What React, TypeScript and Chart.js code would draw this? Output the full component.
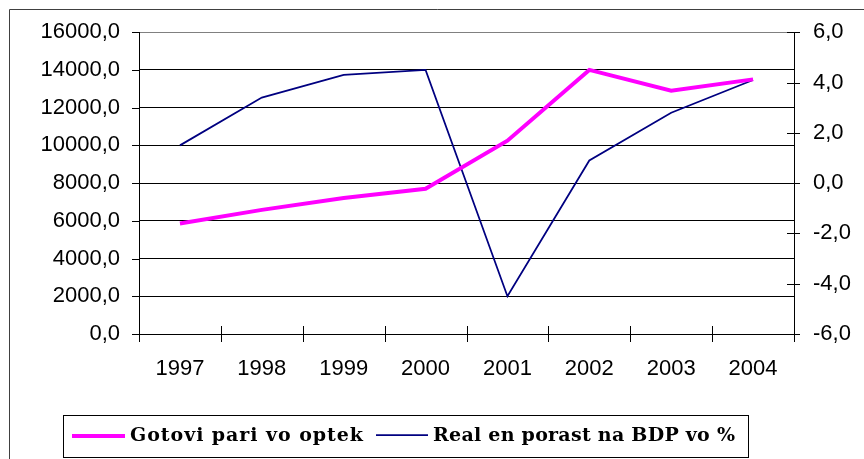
import React, { useEffect, useRef } from "react";
import { Chart, registerables } from "chart.js";

Chart.register(...registerables);

const years = ["1997", "1998", "1999", "2000", "2001", "2002", "2003", "2004"];
const cashValues = [5860, 6580, 7210, 7700, 10250, 14000, 12900, 13500];
const gdpGrowth = [1.5, 3.4, 4.3, 4.5, -4.5, 0.9, 2.8, 4.1];
const cashLabel = "Gotovi pari vo optek";
const gdpLabel = "Real en porast na BDP vo %";
const leftRange = [0, 16000, 2000];
const rightRange = [-6, 6, 2];

const fmt = (v: number) => v.toFixed(1).replace(".", ",");

const decor = {
  id: "decor",
  afterDraw(chart: any) {
    const ctx = chart.ctx;
    const a = chart.chartArea;
    ctx.save();
    // outer frame
    ctx.strokeStyle = "#404040";
    ctx.lineWidth = 1;
    ctx.beginPath();
    ctx.moveTo(9.5, 470);
    ctx.lineTo(9.5, 9.5);
    ctx.lineTo(880, 9.5);
    ctx.stroke();

    ctx.strokeStyle = "#000";
    // left ticks
    const ys = chart.scales.y;
    ys.ticks.forEach((t: any) => {
      const y = Math.round(ys.getPixelForValue(t.value)) + 0.5;
      ctx.beginPath();
      ctx.moveTo(a.left - 7, y);
      ctx.lineTo(a.left, y);
      ctx.stroke();
    });
    // right ticks (crossing)
    const y1 = chart.scales.y1;
    y1.ticks.forEach((t: any) => {
      const y = Math.round(y1.getPixelForValue(t.value)) + 0.5;
      ctx.beginPath();
      ctx.moveTo(a.right - 7, y);
      ctx.lineTo(a.right + 6, y);
      ctx.stroke();
    });
    // x ticks (crossing)
    const n = years.length;
    const w = (a.right - a.left) / n;
    for (let i = 0; i <= n; i++) {
      const x = Math.round(a.left + i * w) + 0.5;
      ctx.beginPath();
      ctx.moveTo(x, a.bottom - 8);
      ctx.lineTo(x, a.bottom + 8);
      ctx.stroke();
    }

    // legend box
    ctx.strokeStyle = "#000";
    ctx.strokeRect(63.5, 415.5, 685, 42);
    const ds = chart.data.datasets;
    const entries = [
      { x1: 72, x2: 125, tx: 130, tw: 233, y: 436 },
      { x1: 376, x2: 428, tx: 433, tw: 302, y: 435 },
    ];
    ctx.font = 'bold 19px "DejaVu Serif", serif';
    ctx.textBaseline = "middle";
    ctx.fillStyle = "#000";
    entries.forEach((e, i) => {
      const d = ds[i];
      ctx.strokeStyle = d.borderColor;
      ctx.lineWidth = d.borderWidth;
      ctx.beginPath();
      ctx.moveTo(e.x1, e.y);
      ctx.lineTo(e.x2, e.y);
      ctx.stroke();
      const label = d.label as string;
      (ctx as any).letterSpacing = "0px";
      const m = ctx.measureText(label).width;
      const sp = (e.tw - m) / Math.max(1, label.length - 1);
      (ctx as any).letterSpacing = sp.toFixed(2) + "px";
      ctx.fillText(label, e.tx, 436);
      (ctx as any).letterSpacing = "0px";
    });
    ctx.restore();
  },
};

export default function App() {
  const ref = useRef<HTMLCanvasElement>(null);
  useEffect(() => {
    const tickFont = { family: '"Liberation Sans", Arial, sans-serif', size: 22 };
    const chart = new Chart(ref.current!, {
      type: "line",
      data: {
        labels: years,
        datasets: [
          {
            label: cashLabel,
            data: cashValues,
            borderColor: "#FF00FF",
            backgroundColor: "#FF00FF",
            borderWidth: 4,
            pointRadius: 0,
            tension: 0,
            yAxisID: "y",
          },
          {
            label: gdpLabel,
            data: gdpGrowth,
            borderColor: "#000080",
            backgroundColor: "#000080",
            borderWidth: 1.75,
            pointRadius: 0,
            tension: 0,
            yAxisID: "y1",
          },
        ],
      },
      options: {
        animation: false,
        responsive: true,
        maintainAspectRatio: false,
        devicePixelRatio: 1,
        layout: { padding: { top: 30, left: 0, right: 0, bottom: 0 } },
        plugins: { legend: { display: false }, tooltip: { enabled: false } },
        scales: {
          x: {
            offset: true,
            grid: { display: false, drawTicks: false },
            border: { display: true, color: "#000", width: 1 },
            ticks: { color: "#000", font: tickFont, padding: 22, maxRotation: 0 },
            afterFit: (s: any) => {
              s.height = 125;
            },
          },
          y: {
            position: "left",
            min: leftRange[0],
            max: leftRange[1],
            ticks: {
              stepSize: leftRange[2],
              color: "#000",
              font: tickFont,
              padding: 19,
              callback: (v: any) => fmt(Number(v)),
            },
            grid: {
              drawTicks: false,
              color: (c: any) => (c.tick && c.tick.value === leftRange[1] ? "#808080" : "#000"),
              lineWidth: 1,
            },
            border: { display: true, color: "#000", width: 1 },
            afterFit: (s: any) => {
              s.width = 139;
            },
          },
          y1: {
            position: "right",
            min: rightRange[0],
            max: rightRange[1],
            ticks: {
              stepSize: rightRange[2],
              color: "#000",
              font: tickFont,
              padding: 19,
              callback: (v: any) => fmt(Number(v)),
            },
            grid: { drawOnChartArea: false, drawTicks: false },
            border: { display: true, color: "#000", width: 1 },
            afterFit: (s: any) => {
              s.width = 70;
            },
          },
        },
      },
      plugins: [decor],
    });
    return () => chart.destroy();
  }, []);
  return (
    <div style={{ position: "fixed", left: 0, top: 0, width: 864, height: 459, background: "#fff" }}>
      <canvas ref={ref} />
    </div>
  );
}
